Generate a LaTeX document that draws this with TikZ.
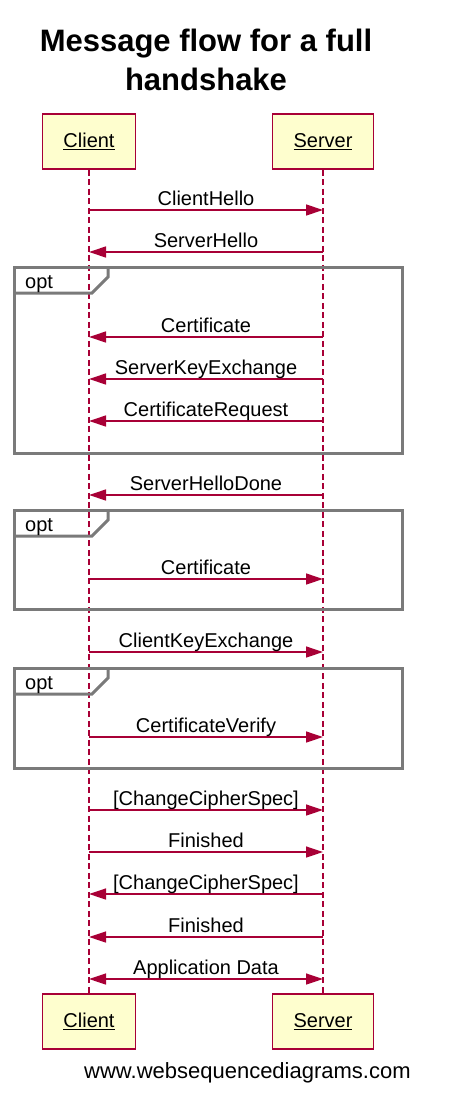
\documentclass[tikz,border=0pt]{standalone}
\usepackage{fontspec}
\setmainfont{Liberation Sans}
\usetikzlibrary{arrows.meta}

\definecolor{wsdred}{HTML}{A80036}
\definecolor{wsdfill}{HTML}{FEFECE}
\definecolor{wsdgrey}{HTML}{7A7A7A}

\begin{document}
\begin{tikzpicture}[x=1pt,y=-1pt]
			\tikzstyle{actor}=[rectangle, draw=wsdred, fill=wsdfill, line width=1.5pt, inner xsep=21pt, minimum height=55pt, font=\fontsize{20}{24}\selectfont]
			\tikzstyle{lifeline}=[draw=wsdred, line width=1.3pt, dash pattern=on 6pt off 3.5pt]
			\tikzstyle{msg}=[draw=wsdred, line width=1.3pt, -{Triangle[length=17pt, width=11pt]}]
			\tikzstyle{msgtext}=[anchor=base, yshift=5pt, inner sep=0pt, font=\fontsize{20}{24}\selectfont]
			\tikzstyle{frame}=[draw=wsdgrey, line width=3pt]
			\tikzstyle{optlabel}=[anchor=base west, inner sep=0pt, font=\fontsize{20}{24}\selectfont]
			
			\useasboundingbox (0,0) rectangle (460,1094);
			
			\node at (206,29) [anchor=north, inner sep=0pt, align=center, font=\bfseries\fontsize{31}{39}\selectfont] (title) {Message flow for a full\\handshake};
			
			\node at (89,141.5) [actor] (client) {\underline{Client}};
			\node at (323,141.5) [actor] (server) {\underline{Server}};
			\node at (89,1021.5) [actor] (clientb) {\underline{Client}};
			\node at (323,1021.5) [actor] (serverb) {\underline{Server}};
			
			\draw [lifeline] (client.south) -- (clientb.north);
			\draw [lifeline] (server.south) -- (serverb.north);
			
			\coordinate (c1) at (89,210);  \coordinate (s1) at (323,210);
			\draw [msg] (c1) to node[msgtext]{ClientHello} (s1);
			\coordinate (c2) at (89,252);  \coordinate (s2) at (323,252);
			\draw [msg] (s2) to node[msgtext]{ServerHello} (c2);
			
			% opt: Certificate, ServerKeyExchange, CertificateRequest
			\draw [frame] (14,267) rectangle (402,453);
			\draw [frame] (108,267) -- (108,277) -- (92,293) -- (14,293);
			\node at (25,288) [optlabel] (opt1) {opt};
			
			\coordinate (c3) at (89,337);  \coordinate (s3) at (323,337);
			\draw [msg] (s3) to node[msgtext]{Certificate} (c3);
			\coordinate (c4) at (89,379);  \coordinate (s4) at (323,379);
			\draw [msg] (s4) to node[msgtext]{ServerKeyExchange} (c4);
			\coordinate (c5) at (89,421);  \coordinate (s5) at (323,421);
			\draw [msg] (s5) to node[msgtext]{CertificateRequest} (c5);
			
			\coordinate (c6) at (89,495);  \coordinate (s6) at (323,495);
			\draw [msg] (s6) to node[msgtext]{ServerHelloDone} (c6);
			
			% opt: Certificate
			\draw [frame] (14,510) rectangle (402,609);
			\draw [frame] (108,510) -- (108,520) -- (92,536) -- (14,536);
			\node at (25,531) [optlabel] (opt2) {opt};
			
			\coordinate (c7) at (89,579);  \coordinate (s7) at (323,579);
			\draw [msg] (c7) to node[msgtext]{Certificate} (s7);
			
			\coordinate (c8) at (89,652);  \coordinate (s8) at (323,652);
			\draw [msg] (c8) to node[msgtext]{ClientKeyExchange} (s8);
			
			% opt: CertificateVerify
			\draw [frame] (14,668) rectangle (402,768);
			\draw [frame] (108,668) -- (108,678) -- (92,694) -- (14,694);
			\node at (25,689) [optlabel] (opt3) {opt};
			
			\coordinate (c9) at (89,737);  \coordinate (s9) at (323,737);
			\draw [msg] (c9) to node[msgtext]{CertificateVerify} (s9);
			
			\coordinate (c10) at (89,810);  \coordinate (s10) at (323,810);
			\draw [msg] (c10) to node[msgtext]{[ChangeCipherSpec]} (s10);
			\coordinate (c11) at (89,852);  \coordinate (s11) at (323,852);
			\draw [msg] (c11) to node[msgtext]{Finished} (s11);
			\coordinate (c12) at (89,894);  \coordinate (s12) at (323,894);
			\draw [msg] (s12) to node[msgtext]{[ChangeCipherSpec]} (c12);
			\coordinate (c13) at (89,937);  \coordinate (s13) at (323,937);
			\draw [msg] (s13) to node[msgtext]{Finished} (c13);
			\coordinate (c14) at (89,979);  \coordinate (s14) at (323,979);
			\draw [msg, {Triangle[length=17pt, width=11pt]}-{Triangle[length=17pt, width=11pt]}] (c14) to node[msgtext]{Application Data} (s14);
			
			\node at (84,1078) [anchor=base west, inner sep=0pt, font=\fontsize{22}{26}\selectfont] (site) {www.websequencediagrams.com};
		\end{tikzpicture}
\end{document}
